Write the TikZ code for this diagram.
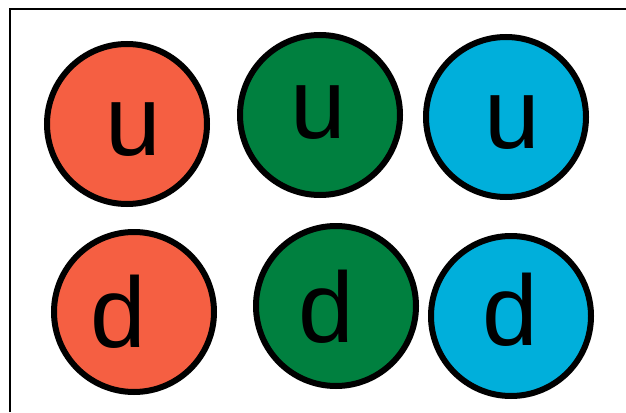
\documentclass[tikz,border=0pt]{standalone}
\usepackage{fontspec}
\setmainfont{Liberation Sans}
\definecolor{qred}{HTML}{F55F42}
\definecolor{qgreen}{HTML}{00803F}
\definecolor{qblue}{HTML}{00AFDB}
\begin{document}
\begin{tikzpicture}[x=1pt,y=-1pt,
  quark/.style={circle,draw=black,line width=6pt,minimum size=160pt,inner sep=0pt},
  lab/.style={anchor=base,inner sep=0pt,font=\fontsize{100}{100}\selectfont}]
\useasboundingbox (0,0) rectangle (626,412);
\fill[white] (0,0) rectangle (626,412);
\coordinate (fb) at (10,412);
\coordinate (fc) at (10,9);
\coordinate (fr) at (626,9);
\draw[line width=2.5pt] (fb) -- (fc) -- (fr);
\node[quark,fill=qred] (ru) at (127,124) {};
\node[quark,fill=qgreen] (gu) at (320,115) {};
\node[quark,fill=qblue] (bu) at (506,117) {};
\node[quark,fill=qred] (rd) at (134,312) {};
\node[quark,fill=qgreen] (gd) at (336,306) {};
\node[quark,fill=qblue] (bd) at (511,316) {};
\node[lab] (tru) at (133,155) {u};
\node[lab] (tgu) at (318,138) {u};
\node[lab] (tbu) at (512,148) {u};
\node[lab] (trd) at (118,347) {d};
\node[lab] (tgd) at (326,342) {d};
\node[lab] (tbd) at (510,345) {d};
\end{tikzpicture}
\end{document}
